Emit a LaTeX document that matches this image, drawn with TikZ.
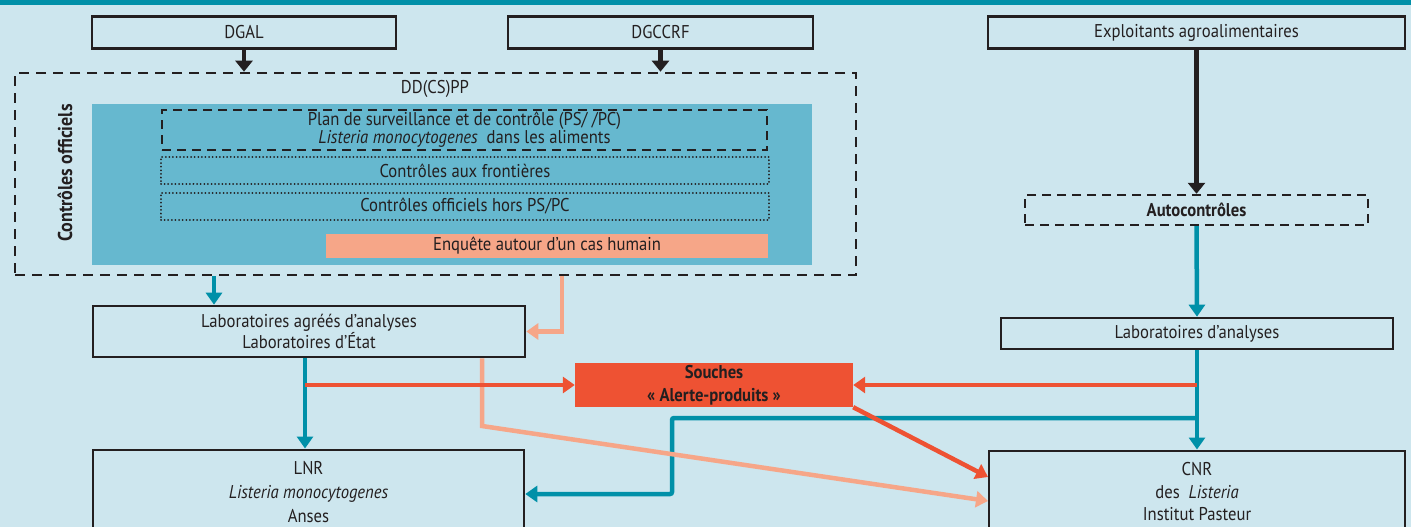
\documentclass[tikz,border=0pt]{standalone}
\usepackage{fontspec}
\setmainfont{PT Sans}[FakeStretch=0.9]
\usetikzlibrary{arrows.meta}
\definecolor{bg}{HTML}{CDE6EE}
\definecolor{tealc}{HTML}{0090A8}
\definecolor{innerc}{HTML}{66B8CF}
\definecolor{salmonc}{HTML}{F6A688}
\definecolor{redc}{HTML}{EE5233}
\definecolor{ink}{HTML}{231F20}
\tikzset{
  box/.style={draw=ink, line width=2.6pt, fill=bg, inner sep=0pt, align=center, text=ink},
  dbox/.style={draw=ink, line width=2.4pt, dash pattern=on 9pt off 6pt, inner sep=0pt, align=center, text=ink},
  dotbox/.style={draw=ink, line width=2pt, dash pattern=on 0.01pt off 3.6pt, line cap=round, inner sep=0pt, align=center, text=ink},
  lbl/.style={inner sep=0pt, align=center, text=ink},
  blkarr/.style={draw=ink, line width=4.5pt, -{Triangle[length=11pt,width=17pt]}},
  tealarr/.style={draw=tealc, line width=4.5pt, -{Triangle[length=12pt,width=16pt]}},
  salarr/.style={draw=salmonc, line width=4.5pt, -{Triangle[length=12pt,width=16pt]}},
  redarr/.style={draw=redc, line width=4.5pt, -{Triangle[length=12pt,width=16pt]}},
}
\begin{document}
\begin{tikzpicture}[x=1pt,y=-1pt,font=\fontsize{18.5}{21}\selectfont]
\useasboundingbox (0,0) rectangle (1411,527);
\clip (0,0) rectangle (1411,527);
\fill[bg] (0,0) rectangle (1411,527);
\fill[tealc] (0,0) rectangle (1411,5);

% top boxes
\node[box, minimum width=304pt, minimum height=32pt] (dgal) at (244,32.5) {DGAL};
\node[box, minimum width=305pt, minimum height=32pt] (dgccrf) at (660.5,32.5) {DGCCRF};
\node[box, minimum width=417pt, minimum height=32pt] (expl) at (1196.5,32.5) {Exploitants agroalimentaires};

% DD(CS)PP dashed frame
\node[dbox, line width=2.6pt, dash pattern=on 10pt off 7pt, minimum width=841pt, minimum height=202pt] (dd) at (435.5,174) {};
\node[lbl] (ddlbl) at (435,89) {DD(CS)PP};
\node[fill=innerc, inner sep=0pt, minimum width=720pt, minimum height=161pt] (inner) at (452,184.5) {};
\node[lbl, rotate=90, font=\fontsize{20}{20}\selectfont\bfseries] (co) at (65,173) {Contrôles officiels};

\node[dbox, minimum width=605pt, minimum height=40pt, font=\fontsize{18.5}{15.5}\selectfont] (ps) at (464.5,130)
  {Plan de surveillance et de contrôle (PS/ /PC)\\\textit{Listeria monocytogenes}\ \ dans les aliments};
\node[dotbox, minimum width=608pt, minimum height=27pt] (front) at (465,170.5) {Contrôles aux frontières};
\node[dotbox, minimum width=608pt, minimum height=27pt] (hors) at (465,206.5) {Contrôles officiels hors PS/PC};
\node[lbl, fill=salmonc, minimum width=442pt, minimum height=24pt] (enq) at (547,246) {Enquête autour d’un cas humain};

% right column
\node[dbox, minimum width=343pt, minimum height=30pt, font=\fontsize{18.5}{21}\selectfont\bfseries] (auto) at (1196.5,210) {Autocontrôles};
\node[box, minimum width=392pt, minimum height=31pt] (laba) at (1197,333.5) {Laboratoires d’analyses};

% labs
\node[box, minimum width=432pt, minimum height=51pt, font=\fontsize{18.5}{21}\selectfont] (labag) at (309,331.5)
  {Laboratoires agréés d’analyses\\Laboratoires d’État};
\node[lbl, fill=redc, minimum width=278pt, minimum height=44pt, font=\fontsize{18.5}{23}\selectfont\bfseries] (souches) at (714,385)
  {Souches\\« Alerte-produits »};

\node[box, minimum width=431pt, inner ysep=12pt, font=\fontsize{18.5}{24}\selectfont] (lnr) at (308.5,492.5)
  {LNR\\\textit{Listeria monocytogenes}\\Anses};
\node[box, minimum width=416pt, inner ysep=12pt, font=\fontsize{18.5}{22.5}\selectfont] (cnr) at (1197,492)
  {CNR\\des\ \ \textit{Listeria}\\Institut Pasteur};

% coordinates for branch points
\coordinate (xa) at (214,0);
\coordinate (xs) at (562,0);
\coordinate (xl) at (305,0);
\coordinate (xd) at (482,0);
\coordinate (kd) at (482,426);
\coordinate (pc) at (988,501);
\coordinate (pr) at (988,477);
\coordinate (tr) at (1197,385);
\coordinate (tb) at (1197,418);
\coordinate (tk) at (672,418);
\coordinate (tl) at (0,494);

% black arrows
\draw[blkarr] (dgal.south) -- (dgal.south |- dd.north);
\draw[blkarr] (dgccrf.south) -- (dgccrf.south |- dd.north);
\draw[blkarr] (expl.south -| auto.north) -- (auto.north);

% teal arrows
\draw[tealarr] (dd.south -| xa) -- (labag.north -| xa);
\draw[tealarr] (auto.south) -- (laba.north);
\draw[tealarr] (laba.south) -- (cnr.north);
\draw[tealarr] (labag.south -| xl) -- (lnr.north -| xl);
\draw[tealarr, rounded corners=2pt] (tb) -- (tk) |- (lnr.east |- tl);

% salmon arrows
\draw[salarr] (dd.south -| xs) |- (labag.east);
\draw[salarr] (labag.south -| xd) -- (kd) -- (pc);

% red arrows
\draw[redarr] (souches.west -| xl) -- (souches.west);
\draw[redarr] (tr) -- (souches.east);
\draw[redarr] (souches.south east) -- (pr);
\end{tikzpicture}
\end{document}
